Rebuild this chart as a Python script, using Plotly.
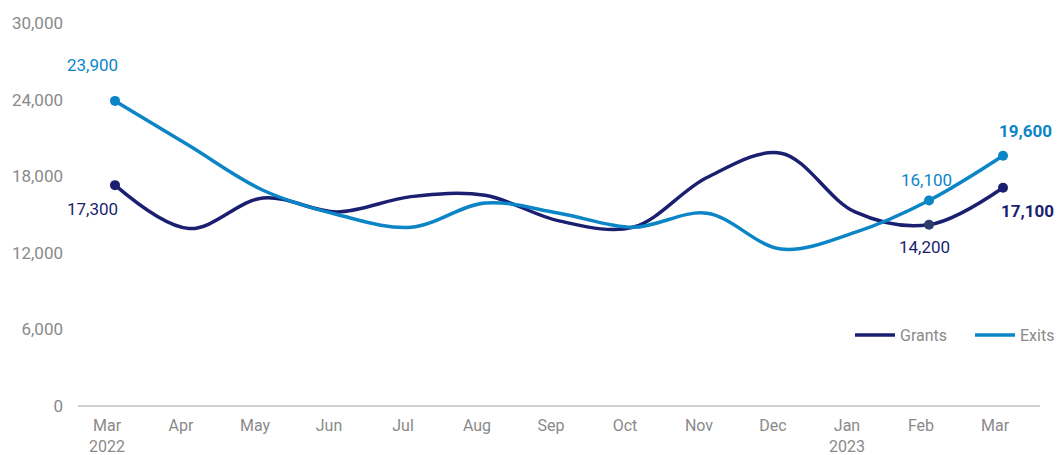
import plotly.graph_objects as go

months = ["Mar 2022", "Apr 2022", "May 2022", "Jun 2022", "Jul 2022", "Aug 2022", "Sep 2022",
          "Oct 2022", "Nov 2022", "Dec 2022", "Jan 2023", "Feb 2023", "Mar 2023"]
tick_labels = ["Mar<br>2022", "Apr", "May", "Jun", "Jul", "Aug", "Sep",
               "Oct", "Nov", "Dec", "Jan<br>2023", "Feb", "Mar"]
grants = [17300, 13900, 16300, 15200, 16400, 16500, 14500, 14000, 17900, 19800, 15200, 14200, 17100]
exits = [23900, 20400, 16900, 15000, 14000, 15900, 15100, 14000, 15100, 12300, 13600, 16100, 19600]
marker_idx = [0, 11, 12]

NAVY = "#1b1f6f"
BLUE = "#0c85c7"
GRAY = "#8a8a8a"
FONT = "Roboto"

fig = go.Figure()
fig.add_trace(go.Scatter(x=months, y=grants, name="Grants", mode="lines",
                         line=dict(color=NAVY, width=3.5, shape="spline", smoothing=1.0)))
fig.add_trace(go.Scatter(x=months, y=exits, name="Exits", mode="lines",
                         line=dict(color=BLUE, width=3.5, shape="spline", smoothing=1.0)))
fig.add_trace(go.Scatter(x=[months[i] for i in marker_idx], y=[grants[i] for i in marker_idx],
                         mode="markers", showlegend=False,
                         marker=dict(color=[NAVY, "#2c3d6b", NAVY], size=10)))
fig.add_trace(go.Scatter(x=[months[i] for i in marker_idx], y=[exits[i] for i in marker_idx],
                         mode="markers", showlegend=False,
                         marker=dict(color=BLUE, size=10)))

# data labels
labels = [
    (0, exits, BLUE, False, -23, 36),
    (0, grants, NAVY, False, -23, -24),
    (11, exits, BLUE, False, -3, 20),
    (11, grants, NAVY, False, -5, -22),
    (12, exits, BLUE, True, 22, 25),
    (12, grants, NAVY, True, 24, -23),
]
for i, series, col, bold, dx, dy in labels:
    txt = f"{series[i]:,}"
    if bold:
        txt = f"<b>{txt}</b>"
    fig.add_annotation(x=months[i], y=series[i], text=txt, showarrow=False,
                       xshift=dx, yshift=dy, font=dict(color=col, size=17, family=FONT))

fig.update_layout(
    width=1057, height=455,
    margin=dict(l=78, r=17, t=23, b=49, autoexpand=False),
    paper_bgcolor="white", plot_bgcolor="white",
    font=dict(family=FONT, color=GRAY, size=16),
    showlegend=True,
    legend=dict(orientation="h", x=0.8025, xanchor="left", y=0.185, yanchor="middle",
                font=dict(color=GRAY, size=16, family=FONT), itemwidth=40,
                entrywidth=65, entrywidthmode="pixels",
                bgcolor="rgba(0,0,0,0)", tracegroupgap=0),
)
fig.update_xaxes(type="category", categoryorder="array", categoryarray=months,
                 tickmode="array", tickvals=months, ticktext=tick_labels,
                 showgrid=False, showline=False, zeroline=False, ticks="",
                 tickfont=dict(color=GRAY, size=16, family=FONT), ticklabelshift=-8,
                 ticklabelstandoff=8, automargin=False,
                 range=[-0.5, 12.5])
fig.update_yaxes(range=[0, 30000], tickvals=[0, 6000, 12000, 18000, 24000, 30000],
                 tickformat=",", showgrid=False, zeroline=True, zerolinecolor="#d0d0d0",
                 zerolinewidth=1.5, showline=False, ticks="", ticklabelstandoff=14,
                 automargin=False,
                 tickfont=dict(color=GRAY, size=17, family=FONT))

fig.write_html("out.html")
